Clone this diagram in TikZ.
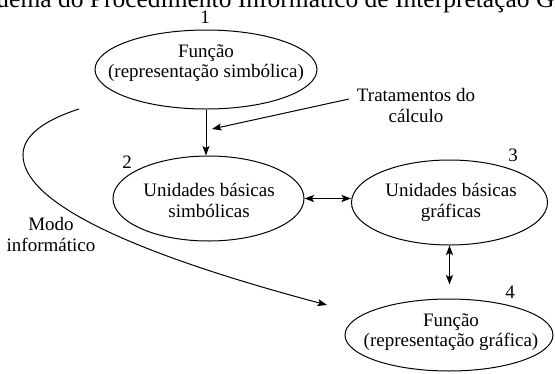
\documentclass[tikz,border=0pt]{standalone}
\usepackage{fontspec}
\setmainfont{Liberation Serif}
\usetikzlibrary{shapes.geometric,arrows.meta}
\begin{document}
\begin{tikzpicture}[x=1pt,y=-1pt,
  ell/.style={draw, line width=1pt, ellipse, inner sep=0pt},
  txt/.style={align=center, inner sep=0pt, font=\fontsize{19}{20.5}\selectfont},
  num/.style={inner sep=0pt, font=\fontsize{19}{20.5}\selectfont},
  tip/.tip={Stealth[length=9.5pt,width=7pt,inset=2pt]},
  conn/.style={line width=1pt, -tip},
  biconn/.style={line width=1pt, tip-tip}]
\useasboundingbox (0,0) rectangle (555,373);
\clip (0,0) rectangle (555,373);
\node[anchor=base west, inner sep=0pt, font=\fontsize{25.5}{30}\selectfont] (title) at (-42,7) {Esquema do Procedimento Informático de Interpretação Gráfica};

\node[ell, minimum width=222pt, minimum height=79pt] (e1) at (206,69.5) {};
\node[txt] (t1) at (206,63) {Função\\(representação simbólica)};
\node[ell, minimum width=191pt, minimum height=85pt] (e2) at (208.5,198.5) {};
\node[txt] (t2) at (209,200.5) {Unidades básicas\\simbólicas};
\node[ell, minimum width=196pt, minimum height=85pt] (e3) at (449.5,202.5) {};
\node[txt] (t3) at (451,202.5) {Unidades básicas\\gráficas};
\node[ell, minimum width=208pt, minimum height=72pt] (e4) at (449,335) {};
\node[txt] (t4) at (451,332) {Função\\(representação gráfica)};

\node[num] (n1) at (205,17) {1};
\node[num] (n2) at (127,162) {2};
\node[num] (n3) at (513,155) {3};
\node[num] (n4) at (510,292) {4};

\node[txt] (t5) at (416,105.5) {Tratamentos do\\cálculo};
\coordinate (c5) at (349,99);
\coordinate (c6) at (212,129);
\draw[conn] (c5) -- (c6);

\draw[conn] (e1.south) -- (e1.south |- e2.north);
\draw[biconn] (e2.east) -- (e3.west |- e2.east);
\draw[biconn, shorten >=14pt] (e3.south) -- (e3.south |- e4.north);

\node[txt] (t6) at (51,234.5) {Modo\\informático};
\coordinate (m0) at (79,109);
\coordinate (m1) at (23,155);
\coordinate (m2) at (327,305);
\draw[conn] (m0) .. controls (45,120) and (23,135) .. (m1) .. controls (23,200) and (120,250) .. (m2);
\end{tikzpicture}
\end{document}
